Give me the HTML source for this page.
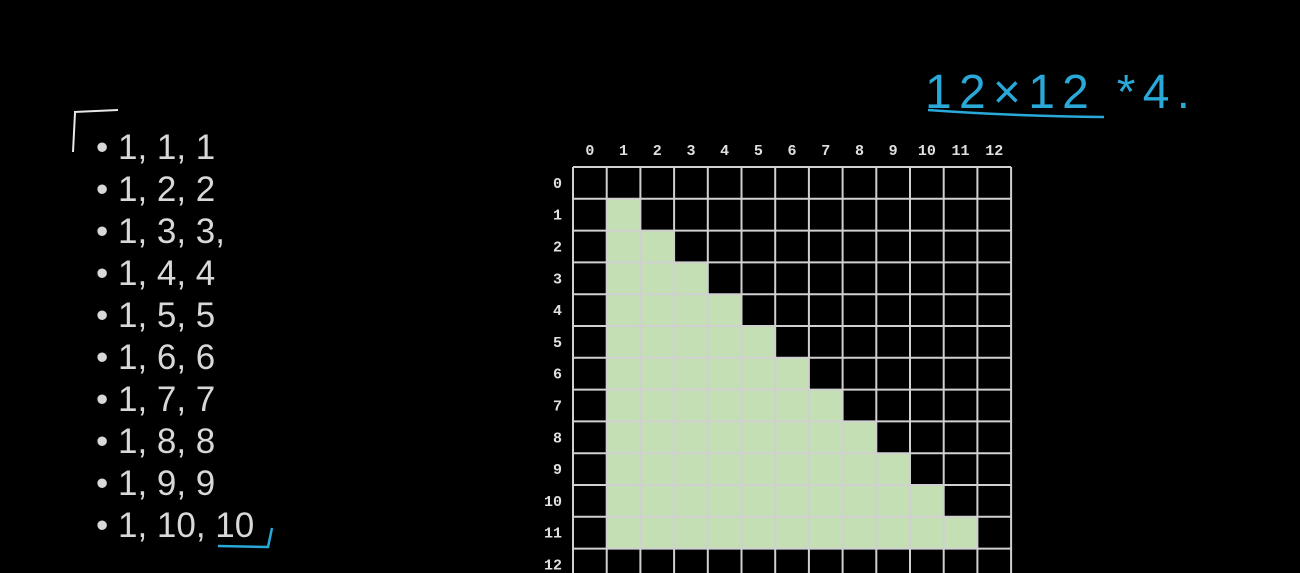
<!DOCTYPE html>
<html><head><meta charset="utf-8"><style>
html,body{margin:0;padding:0;background:#000;width:1300px;height:573px;overflow:hidden}
.li{position:absolute;left:96px;font-family:"Liberation Sans",sans-serif;font-size:35px;color:#d8d8d8;line-height:40px}
</style></head><body>
<div id="list"></div>
<svg id="svg" width="1300" height="573" style="position:absolute;left:0;top:0">
<g><path d="M73 152 L75 113 M74 112 L118 110" stroke="#e8e8e8" stroke-width="2" fill="none"/></g>
<g>
<text x="925" y="108" font-family="Liberation Sans,sans-serif" font-size="48" fill="#2aa8d8" font-weight="300" textLength="265">12×12 *4.</text>
<path d="M928 110 Q1010 116 1104 117" stroke="#2aa8d8" stroke-width="2.5" fill="none"/>
</g>
<g><path d="M218 546 L268 547 L272 528" stroke="#2aa8d8" stroke-width="2.5" fill="none"/></g>
</svg>
<script>
const listItems=["1, 1, 1","1, 2, 2","1, 3, 3,","1, 4, 4","1, 5, 5","1, 6, 6","1, 7, 7","1, 8, 8","1, 9, 9","1, 10, 10"];
const colLabels=["0","1","2","3","4","5","6","7","8","9","10","11","12"];
const rowLabels=["0","1","2","3","4","5","6","7","8","9","10","11","12"];
const filled=[0,1,2,3,4,5,6,7,8,9,10,11,0]; // number of filled cells (starting at col 1) per row
const L=document.getElementById('list');
listItems.forEach((t,i)=>{const d=document.createElement('div');d.className='li';d.style.top=(128+i*42)+'px';d.textContent='• '+t;


L.appendChild(d);});
const S=document.getElementById('svg'),NS='http://www.w3.org/2000/svg';
const x0=573,y0=167,cw=33.7,ch=31.8;
const X=c=>x0+c*cw, Y=r=>y0+r*ch;
function el(tag,a){const e=document.createElementNS(NS,tag);for(const k in a)e.setAttribute(k,a[k]);S.appendChild(e);return e;}
filled.forEach((n,r)=>{for(let c=1;c<=n;c++){const e=el('rect',{x:X(c),y:Y(r),width:cw,height:ch,fill:'#c5dfb4'});

}});
for(let i=0;i<=13;i++){const l=el('line',{x1:X(i),y1:Y(0),x2:X(i),y2:Y(13),stroke:'#d0d0d0','stroke-width':2});

}
for(let i=0;i<=13;i++){const l=el('line',{x1:X(0),y1:Y(i),x2:X(13),y2:Y(i),stroke:'#d0d0d0','stroke-width':2});

}
colLabels.forEach((t,i)=>{const e=el('text',{x:X(i)+cw/2,y:155,'text-anchor':'middle','font-family':'Liberation Mono,monospace','font-size':15,'font-weight':'bold',fill:'#e0e0e0'});e.textContent=t;

});
rowLabels.forEach((t,i)=>{const e=el('text',{x:562,y:Y(i)+ch/2+5,'text-anchor':'end','font-family':'Liberation Mono,monospace','font-size':15,'font-weight':'bold',fill:'#e0e0e0'});e.textContent=t;

});
</script>
</body></html>
